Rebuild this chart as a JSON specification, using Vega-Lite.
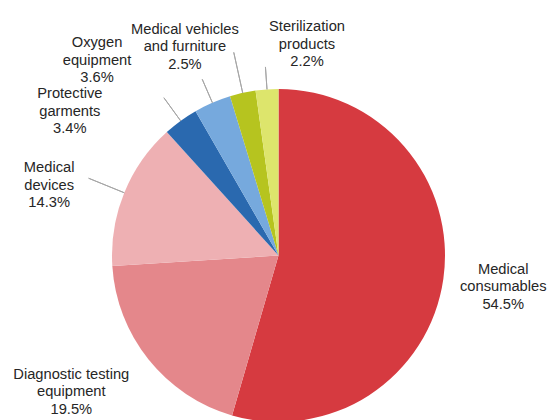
{
  "$schema": "https://vega.github.io/schema/vega-lite/v6.json",
  "width": 549,
  "height": 329,
  "autosize": {"type": "none"},
  "padding": {"left": 4, "top": 91, "right": 0, "bottom": 0},
  "background": "white",
  "config": {"view": {"stroke": null}},
  "data": {
    "values": [
      {"rank": 1, "category": "Medical consumables", "name": "Medical\nconsumables", "value": 54.5},
      {"rank": 2, "category": "Diagnostic testing equipment", "name": "Diagnostic testing\nequipment", "value": 19.5},
      {"rank": 3, "category": "Medical devices", "name": "Medical\ndevices", "value": 14.3},
      {"rank": 4, "category": "Protective garments", "name": "Protective\ngarments", "value": 3.4},
      {"rank": 5, "category": "Oxygen equipment", "name": "Oxygen\nequipment", "value": 3.6},
      {"rank": 6, "category": "Medical vehicles and furniture", "name": "Medical vehicles\nand furniture", "value": 2.5},
      {"rank": 7, "category": "Sterilization products", "name": "Sterilization\nproducts", "value": 2.2}
    ]
  },
  "transform": [
    {"calculate": "datum.name + '\\n' + format(datum.value, '.1f') + '%'", "as": "label"}
  ],
  "encoding": {
    "theta": {"field": "value", "type": "quantitative", "stack": true},
    "order": {"field": "rank", "type": "quantitative"},
    "detail": {"field": "category", "type": "nominal"}
  },
  "layer": [
    {
      "mark": {"type": "arc", "outerRadius": 166.5},
      "encoding": {
        "color": {
          "field": "category",
          "type": "nominal",
          "legend": null,
          "scale": {
            "domain": ["Medical consumables", "Diagnostic testing equipment", "Medical devices", "Protective garments", "Oxygen equipment", "Medical vehicles and furniture", "Sterilization products"],
            "range": ["#D63A40", "#E4878B", "#EEB0B3", "#2A69AF", "#76A9DD", "#B6C41F", "#DDE56C"]
          }
        }
      }
    },
    {
      "mark": {
        "type": "arc",
        "padAngle": 2,
        "fill": null,
        "stroke": "#a6a6a6",
        "strokeWidth": 1,
        "opacity": {"expr": "datum.rank <= 2 ? 0 : 1"}
      },
      "encoding": {
        "radius": {"value": 166.5},
        "radius2": {"value": {"expr": "datum.rank == 3 ? 205 : datum.rank == 4 ? 195 : datum.rank == 5 ? 192 : datum.rank == 6 ? 208 : datum.rank == 7 ? 189 : 166.5"}}
      }
    },
    {
      "mark": {
        "type": "text",
        "font": "Liberation Sans",
        "fontSize": 14.7,
        "lineHeight": 17.5,
        "lineBreak": "\n",
        "align": "center",
        "baseline": "middle",
        "color": "#262626",
        "dx": {"expr": "datum.rank == 1 ? 0 : datum.rank == 2 ? -16 : datum.rank == 3 ? -8 : datum.rank == 4 ? -67 : datum.rank == 5 ? -81 : datum.rank == 6 ? -45 : 43"},
        "dy": {"expr": "(datum.rank == 1 ? -1.5 : datum.rank == 2 ? -18 : datum.rank == 3 ? 19 : datum.rank == 4 ? 49.5 : datum.rank == 5 ? 36 : datum.rank == 6 ? 11 : -2.7) - 16"}
      },
      "encoding": {
        "text": {"field": "label", "type": "nominal"},
        "radius": {"value": {"expr": "datum.rank == 1 ? 227 : datum.rank == 2 ? 245 : datum.rank == 3 ? 239 : datum.rank == 4 ? 241 : datum.rank == 5 ? 253 : datum.rank == 6 ? 226 : 210"}}
      }
    }
  ]
}
